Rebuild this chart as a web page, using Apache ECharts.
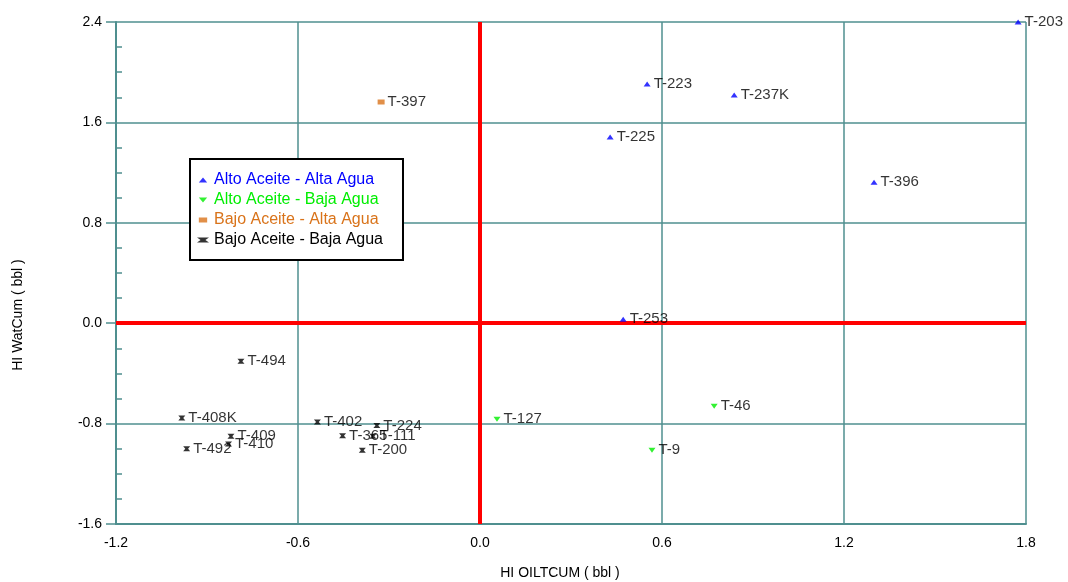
<!DOCTYPE html>
<html><head><meta charset="utf-8">
<script src="https://cdn.jsdelivr.net/npm/echarts@6/dist/echarts.min.js"></script>
<style>html,body{margin:0;padding:0;background:#fff}#c{width:1068px;height:582px}</style>
</head><body><div id="c"></div>
<script>
// Data: [HI OILTCUM, HI WatCum, well name]
const altoAltaAgua = [
  [1.774, 2.40, 'T-203'],
  [0.551, 1.906, 'T-223'],
  [0.838, 1.818, 'T-237K'],
  [0.429, 1.483, 'T-225'],
  [1.299, 1.124, 'T-396'],
  [0.472, 0.032, 'T-253']
];
const altoBajaAgua = [
  [0.056, -0.766, 'T-127'],
  [0.772, -0.662, 'T-46'],
  [0.567, -1.013, 'T-9']
];
const bajoAltaAgua = [
  [-0.326, 1.762, 'T-397']
];
const bajoBajaAgua = [
  [-0.788, -0.303, 'T-494'],
  [-0.983, -0.755, 'T-408K'],
  [-0.821, -0.901, 'T-409'],
  [-0.829, -0.962, 'T-410'],
  [-0.967, -1.000, 'T-492'],
  [-0.536, -0.787, 'T-402'],
  [-0.340, -0.816, 'T-224'],
  [-0.453, -0.896, 'T-365'],
  [-0.353, -0.901, 'T-111'],
  [-0.388, -1.013, 'T-200']
];
const seriesNames = ['Alto Aceite - Alta Agua','Alto Aceite - Baja Agua','Bajo Aceite - Alta Agua','Bajo Aceite - Baja Agua'];
const seriesColors = ['#0000ff','#00ee00','#d9731a','#000000'];
const xTicks = {min:-1.2, max:1.8, interval:0.6};
const yTicks = {min:-1.6, max:2.4, interval:0.8};

const gridColor = '#4f8f8f';
const mainFont = 'Liberation Sans, Arial, sans-serif';
const narrowFont = 'Liberation Sans Narrow, Arial Narrow, Liberation Sans, sans-serif';
const symbols = [
  'path://M5,0 L10,6 L0,6 Z M5,3 L7,5 L3,5 Z',
  'path://M0,0 L10,0 L5,6 Z M3,1 L7,1 L5,3 Z',
  'path://M0,0 L10,0 L10,6 L0,6 Z M2,2 L8,2 L8,4 L2,4 Z',
  'path://M0,1 L10,1 L7,3 L10,5 L0,5 L3,3 Z'
];
const datasets = [altoAltaAgua, altoBajaAgua, bajoAltaAgua, bajoBajaAgua];

const series = datasets.map((d, i) => ({
  name: seriesNames[i],
  type: 'scatter',
  data: d,
  symbol: symbols[i],
  symbolSize: [7, 5],
  itemStyle: {color: seriesColors[i]},
  label: {show: true, position: 'right', distance: 3, formatter: p => p.data[2],
    color: '#000', fontFamily: mainFont, fontSize: 15},
  z: 5
}));
series.push({
  type: 'line', data: [], silent: true,
  markLine: {symbol: 'none', silent: true, label: {show: false},
    lineStyle: {color: '#ff0000', width: 4, type: 'solid'},
    data: [{xAxis: 0}, {yAxis: 0}]},
  z: 3
});

const chart = echarts.init(document.getElementById('c'));
chart.setOption({
  animation: false,
  backgroundColor: '#fff',
  grid: {left: 116, right: 42, top: 22, bottom: 58, show: false},
  legend: {
    orient: 'vertical', left: 190, top: 159,
    data: seriesNames.map((n, i) => ({name: n, textStyle: {color: seriesColors[i]}})),
    borderColor: '#000', borderWidth: 2, backgroundColor: '#fff',
    padding: [13, 20, 12, 7], itemGap: 4, itemWidth: 12, itemHeight: 5,
    textStyle: {fontFamily: mainFont, fontSize: 16, lineHeight: 16},
    selectedMode: false
  },
  xAxis: {
    type: 'value', min: xTicks.min, max: xTicks.max, interval: xTicks.interval,
    axisLine: {show: true, onZero: false, lineStyle: {color: gridColor, width: 2}},
    axisTick: {show: false},
    splitLine: {show: true, lineStyle: {color: gridColor, width: 1.5}},
    axisLabel: {formatter: v => v.toFixed(1), color: '#000', fontFamily: narrowFont, fontSize: 14, margin: 12}
  },
  yAxis: [{
    type: 'value', min: yTicks.min, max: yTicks.max, interval: yTicks.interval,
    axisLine: {show: true, onZero: false, lineStyle: {color: gridColor, width: 2}},
    axisTick: {show: true, length: 10, lineStyle: {color: gridColor, width: 1.5}},
    splitLine: {show: true, lineStyle: {color: gridColor, width: 1.5}},
    axisLabel: {formatter: v => v.toFixed(1), color: '#000', fontFamily: mainFont, fontSize: 14, margin: 14}
  }, {
    type: 'value', min: yTicks.min, max: yTicks.max, interval: yTicks.interval, position: 'left',
    axisLine: {show: false, onZero: false}, axisLabel: {show: false}, splitLine: {show: false},
    axisTick: {show: false, inside: true},
    minorTick: {show: true, splitNumber: 4, length: 6, lineStyle: {color: gridColor, width: 1.5}}
  }],
  graphic: [
    {type: 'text', x: 18, y: 315, rotation: Math.PI / 2, origin: [0, 0],
      style: {text: 'HI WatCum ( bbl )', fill: '#000', font: '14px ' + mainFont, align: 'center', verticalAlign: 'middle'}},
    {type: 'text', x: 560, y: 573,
      style: {text: 'HI OILTCUM ( bbl )', fill: '#000', font: '14px ' + narrowFont, align: 'center', verticalAlign: 'middle'}}
  ],
  series: series
});
</script></body></html>
